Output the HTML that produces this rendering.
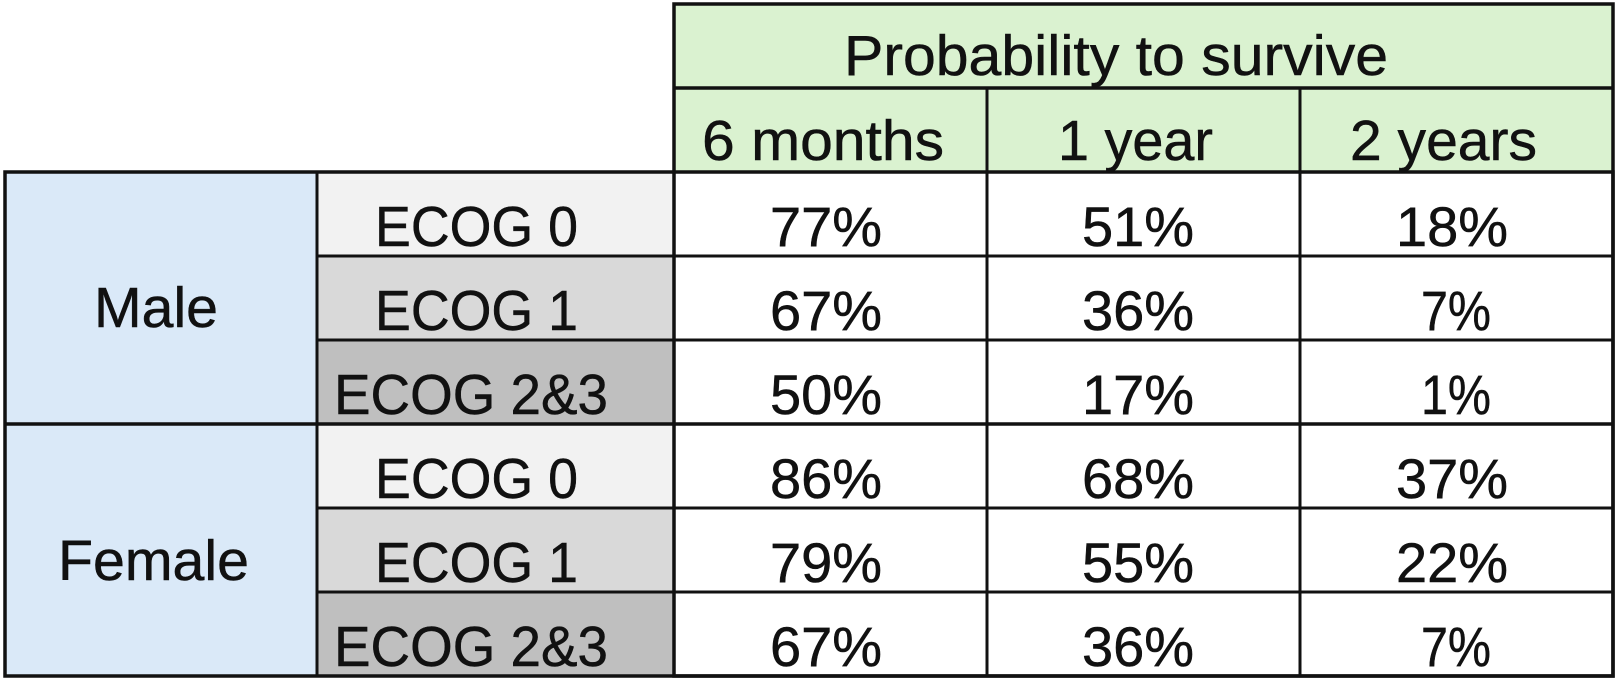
<!DOCTYPE html>
<html>
<head>
<meta charset="utf-8">
<style>
  html, body { margin: 0; padding: 0; background: #ffffff; }
  body { width: 1618px; height: 683px; overflow: hidden; }
  svg { display: block; }
  text { font-family: "Liberation Sans", Arial, sans-serif; fill: #111; stroke: #111; stroke-width: 0.5; }
</style>
</head>
<body>
<svg width="1618" height="683" viewBox="0 0 1618 683" xmlns="http://www.w3.org/2000/svg">
  <rect x="0" y="0" width="1618" height="683" fill="#ffffff"/>

  <!-- fills -->
  <rect x="674" y="4" width="939" height="168" fill="#DAF2D0"/>
  <rect x="5" y="172" width="312" height="504" fill="#DAE9F8"/>
  <rect x="317" y="172" width="357" height="84" fill="#F2F2F2"/>
  <rect x="317" y="256" width="357" height="84" fill="#D9D9D9"/>
  <rect x="317" y="340" width="357" height="84" fill="#BFBFBF"/>
  <rect x="317" y="424" width="357" height="84" fill="#F2F2F2"/>
  <rect x="317" y="508" width="357" height="84" fill="#D9D9D9"/>
  <rect x="317" y="592" width="357" height="84" fill="#BFBFBF"/>

  <!-- grid lines -->
  <g stroke="#111" stroke-width="3.5" fill="none">
    <rect x="674" y="4" width="939" height="672"/>
    <rect x="5" y="172" width="1608" height="504"/>
    <line x1="674" y1="88" x2="1613" y2="88"/>
    <line x1="5" y1="424" x2="1613" y2="424"/>
  </g>
  <g stroke="#111" stroke-width="3" fill="none">
    <line x1="987" y1="88" x2="987" y2="676"/>
    <line x1="1300" y1="88" x2="1300" y2="676"/>
    <line x1="317" y1="172" x2="317" y2="676"/>
    <line x1="317" y1="256" x2="1613" y2="256"/>
    <line x1="317" y1="340" x2="1613" y2="340"/>
    <line x1="317" y1="508" x2="1613" y2="508"/>
    <line x1="317" y1="592" x2="1613" y2="592"/>
  </g>

  <!-- header text -->
  <text x="844" y="75" font-size="57" textLength="544" lengthAdjust="spacingAndGlyphs">Probability to survive</text>
  <text x="702" y="160" font-size="57" textLength="242" lengthAdjust="spacingAndGlyphs">6 months</text>
  <text x="1058" y="160" font-size="57" textLength="155" lengthAdjust="spacingAndGlyphs">1 year</text>
  <text x="1350" y="160" font-size="57" textLength="187" lengthAdjust="spacingAndGlyphs">2 years</text>

  <!-- group labels -->
  <text x="94" y="327" font-size="57" textLength="124" lengthAdjust="spacingAndGlyphs">Male</text>
  <text x="58" y="580" font-size="57" textLength="191" lengthAdjust="spacingAndGlyphs">Female</text>

  <!-- ECOG labels -->
  <text x="375" y="246" font-size="57" textLength="203" lengthAdjust="spacingAndGlyphs">ECOG 0</text>
  <text x="375" y="330" font-size="57" textLength="203" lengthAdjust="spacingAndGlyphs">ECOG 1</text>
  <text x="334" y="414" font-size="57" textLength="274" lengthAdjust="spacingAndGlyphs">ECOG 2&amp;3</text>
  <text x="375" y="498" font-size="57" textLength="203" lengthAdjust="spacingAndGlyphs">ECOG 0</text>
  <text x="375" y="582" font-size="57" textLength="203" lengthAdjust="spacingAndGlyphs">ECOG 1</text>
  <text x="334" y="666" font-size="57" textLength="274" lengthAdjust="spacingAndGlyphs">ECOG 2&amp;3</text>

  <!-- data -->
  <g font-size="56" text-anchor="middle">
    <text x="826" y="246">77%</text>
    <text x="1138" y="246">51%</text>
    <text x="1452" y="246">18%</text>

    <text x="826" y="330">67%</text>
    <text x="1138" y="330">36%</text>
    <text x="1456" y="330" textLength="70" lengthAdjust="spacingAndGlyphs">7%</text>

    <text x="826" y="414">50%</text>
    <text x="1138" y="414">17%</text>
    <text x="1456" y="414" textLength="70" lengthAdjust="spacingAndGlyphs">1%</text>

    <text x="826" y="498">86%</text>
    <text x="1138" y="498">68%</text>
    <text x="1452" y="498">37%</text>

    <text x="826" y="582">79%</text>
    <text x="1138" y="582">55%</text>
    <text x="1452" y="582">22%</text>

    <text x="826" y="666">67%</text>
    <text x="1138" y="666">36%</text>
    <text x="1456" y="666" textLength="70" lengthAdjust="spacingAndGlyphs">7%</text>
  </g>
</svg>
</body>
</html>
